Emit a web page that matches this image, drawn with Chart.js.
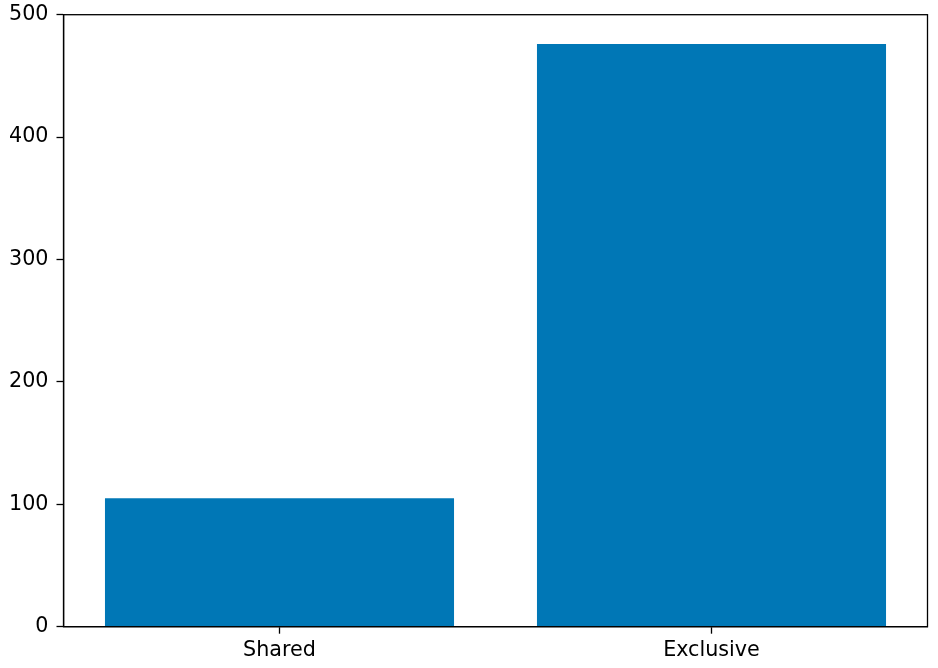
<!DOCTYPE html>
<html>
<head>
<meta charset="utf-8">
<script src="https://cdn.jsdelivr.net/npm/chart.js@4"></script>
<style>
  body { margin: 0; background: #fff; }
  canvas { display: block; }
</style>
</head>
<body>
<canvas id="barChart" width="938" height="668"></canvas>
<script>
const categories = ["Shared", "Exclusive"];
const counts = [105, 476];
const yTicks = [0, 100, 200, 300, 400, 500];

// draw the full box like matplotlib spines
const frameBox = {
  id: "frameBox",
  afterDatasetsDraw(chart) {
    const { ctx, chartArea: a } = chart;
    ctx.save();
    ctx.strokeStyle = "#000";
    ctx.lineWidth = 1.3;
    ctx.strokeRect(a.left, a.top, a.right - a.left, a.bottom - a.top);
    ctx.restore();
  }
};

const ctx = document.getElementById("barChart").getContext("2d");
new Chart(ctx, {
  type: "bar",
  data: {
    labels: categories,
    datasets: [{
      data: counts,
      backgroundColor: "#0077b6",
      barPercentage: 0.808,
      categoryPercentage: 1
    }]
  },
  options: {
    responsive: false,
    animation: false,
    layout: { padding: { left: 0, right: 10.5, top: 14.7, bottom: 0 } },
    plugins: { legend: { display: false }, tooltip: { enabled: false } },
    scales: {
      x: {
        offset: true,
        grid: { drawOnChartArea: false, tickLength: 7, tickColor: "#000", tickWidth: 1.3, offset: false },
        border: { color: "#000", width: 1.3 },
        ticks: { color: "#000", font: { family: "DejaVu Sans", size: 20.7 }, padding: 4, maxRotation: 0 },
        afterFit(scale) { scale.height = 41.3; scale.paddingLeft = 0; scale.paddingRight = 0; }
      },
      y: {
        min: yTicks[0],
        max: yTicks[yTicks.length - 1],
        afterBuildTicks(scale) { scale.ticks = yTicks.map(v => ({ value: v })); },
        grid: { drawOnChartArea: false, tickLength: 7, tickColor: "#000", tickWidth: 1.3 },
        border: { color: "#000", width: 1.3 },
        ticks: { color: "#000", font: { family: "DejaVu Sans", size: 20.7 }, padding: 8 },
        afterFit(scale) { scale.width = 63.5; scale.paddingTop = 0; scale.paddingBottom = 0; }
      }
    }
  },
  plugins: [frameBox]
});
</script>
</body>
</html>
